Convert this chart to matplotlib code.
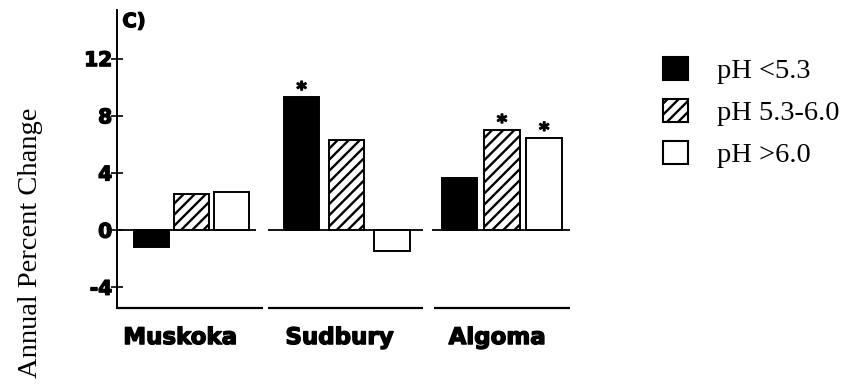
import matplotlib
matplotlib.use("Agg")
import matplotlib.pyplot as plt
import matplotlib.patheffects as pe
from matplotlib.patches import Patch
import numpy as np

plt.rcParams['hatch.linewidth'] = 1.7

regions = ["Muskoka", "Sudbury", "Algoma"]
series_labels = ["pH <5.3", "pH 5.3-6.0", "pH >6.0"]
ph_low = [-1.2, 9.3, 3.65]
ph_mid = [2.5, 6.3, 7.0]
ph_high = [2.7, -1.45, 6.45]
significant = [
    [False, True, False],   # pH <5.3
    [False, False, True],   # pH 5.3-6.0
    [False, False, True],   # pH >6.0
]
yticks = [-4, 0, 4, 8, 12]

series = [ph_low, ph_mid, ph_high]
faces = ["black", "white", "white"]
hatches = [None, "///", None]

# bar spacing within each region group
group_step = np.array([0.256, 0.291, 0.272])
label_shift = np.array([-0.074, -0.048, -0.032])
YMIN, YMAX = -5.45, 15.4
XMIN, XMAX = -0.48, 2.438

heavy = [pe.withStroke(linewidth=1.0, foreground="black")]

fig = plt.figure(figsize=(8.45, 3.85), dpi=100)
ax = fig.add_axes([0.1385, 0.2, 0.536, 0.774])

x = np.arange(len(regions))
width = 0.228

for k, (vals, fc, h, sig) in enumerate(zip(series, faces, hatches, significant)):
    pos = x + (k - 1) * group_step
    bars = ax.bar(pos, vals, width, color=fc, edgecolor="black",
                  linewidth=1.4, hatch=h, zorder=3)
    for b, v, s in zip(bars, vals, sig):
        if s:
            ax.text(b.get_x() + b.get_width() / 2, v + 0.5, "*",
                    ha="center", va="center", fontsize=14,
                    fontweight="bold", family="DejaVu Sans", zorder=4,
                    path_effects=heavy)

ax.set_ylim(YMIN, YMAX)
ax.set_xlim(XMIN, XMAX)

# Segmented zero line and bottom axis, one piece per region
zero_segs = [(XMIN, 0.418), (1 - 0.51, 1 + 0.49), (2 - 0.45, XMAX)]
base_segs = [(XMIN, 0.463), (1 - 0.51, 1 + 0.49), (2 - 0.44, XMAX)]
for (a, b) in zero_segs:
    ax.plot([a, b], [0, 0], color="black", linewidth=1.3, zorder=2,
            solid_capstyle="butt")
for (a, b) in base_segs:
    ax.plot([a, b], [YMIN, YMIN], color="black", linewidth=1.6, zorder=2,
            clip_on=False, solid_capstyle="butt")

for side in ["top", "right", "bottom"]:
    ax.spines[side].set_visible(False)
ax.spines["left"].set_linewidth(1.4)

ax.set_yticks(yticks)
ax.set_yticklabels([str(t) for t in yticks], fontsize=14.5, fontweight="bold",
                   family="DejaVu Sans")
ax.tick_params(axis="y", direction="inout", length=9, width=1.2, pad=-1)
for t in ax.get_yticklabels():
    t.set_path_effects(heavy)

ax.set_xticks(x + label_shift)
ax.set_xticklabels(regions, fontsize=16.5, fontweight="bold",
                   family="DejaVu Sans")
ax.tick_params(axis="x", length=0, pad=13)
for t in ax.get_xticklabels():
    t.set_path_effects(heavy)

ax.text(0.012, 0.993, "C)", transform=ax.transAxes, fontsize=14,
        fontweight="bold", family="DejaVu Sans", va="top", ha="left",
        path_effects=heavy)

fig.text(0.036, 0.369, "Annual Percent Change", rotation=90, fontsize=20.5,
         family="Liberation Serif", ha="center", va="center")

handles = [Patch(facecolor=fc, edgecolor="black", hatch=h, linewidth=1.5)
           for fc, h in zip(faces, hatches)]
fig.legend(handles, series_labels, loc="upper left",
           bbox_to_anchor=(663 / 845, 1 - 57 / 385), frameon=False,
           borderpad=0, borderaxespad=0,
           prop={"family": "Liberation Serif", "size": 20.5},
           handlelength=0.88, handleheight=0.88, handletextpad=1.0,
           labelspacing=0.51)

fig.savefig("out.png", dpi=100)
